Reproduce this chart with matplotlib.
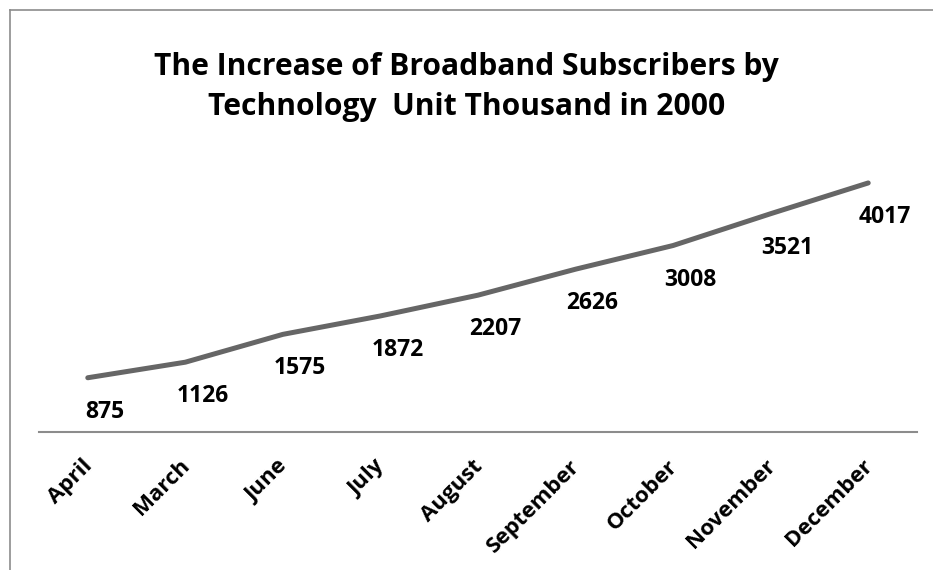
import matplotlib
matplotlib.use("Agg")
import matplotlib.pyplot as plt
import matplotlib.transforms as mtransforms
from matplotlib.lines import Line2D

# broadband subscribers (thousand), 2000
months = ["April", "March", "June", "July", "August",
          "September", "October", "November", "December"]
subscribers = [875, 1126, 1575, 1872, 2207, 2626, 3008, 3521, 4017]

plt.rcParams['font.family'] = ['Open Sans', 'DejaVu Sans']

fig = plt.figure(figsize=(9.33, 5.70), dpi=100)
ax = fig.add_axes([39 / 933, 138 / 570, 878 / 933, 279 / 570])

x = list(range(len(months)))
ax.plot(x, subscribers, color="#666666", linewidth=3.6, solid_capstyle="round")

for xi, v in zip(x, subscribers):
    ax.annotate(str(v), (xi, v), xytext=(17, -34), textcoords="offset pixels",
                ha="center", va="center", fontsize=16.5, fontweight="bold")

ax.set_xlim(-0.5, len(months) - 0.5)
ax.set_ylim(0, 4500)
ax.set_xticks(x)
ax.set_xticklabels(months, rotation=45, ha="right", rotation_mode="anchor",
                   fontsize=16, fontweight="bold")
ax.tick_params(axis="x", length=0, pad=17)
# nudge the slanted labels a little to the left
shift = mtransforms.ScaledTranslation(-6 / 100, 0, fig.dpi_scale_trans)
for lbl in ax.get_xticklabels():
    lbl.set_transform(lbl.get_transform() + shift)
ax.set_yticks([])
for side in ["top", "left", "right"]:
    ax.spines[side].set_visible(False)
ax.spines["bottom"].set_color("#8c8c8c")
ax.spines["bottom"].set_linewidth(1.5)

fig.text(0.5, 1 - 67 / 570, "The Increase of Broadband Subscribers by",
         ha="center", va="center", fontsize=21.6, fontweight="bold")
fig.text(0.5, 1 - 107 / 570, "Technology  Unit Thousand in 2000",
         ha="center", va="center", fontsize=21.6, fontweight="bold")

# chart frame edges
fig.add_artist(Line2D([10 / 933, 10 / 933], [0, 1 - 10 / 570],
                      transform=fig.transFigure, color="#8c8c8c", linewidth=1.2))
fig.add_artist(Line2D([10 / 933, 1], [1 - 10 / 570, 1 - 10 / 570],
                      transform=fig.transFigure, color="#8c8c8c", linewidth=1.2))

fig.savefig("out.png", dpi=100)
